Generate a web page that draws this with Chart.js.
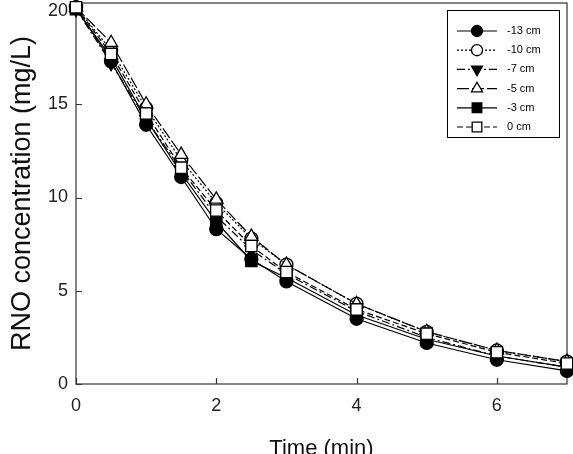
<!DOCTYPE html>
<html><head><meta charset="utf-8">
<script src="https://cdn.jsdelivr.net/npm/chart.js@4/dist/chart.umd.min.js"></script>
<style>html,body{margin:0;padding:0;background:#fff}#wrap{width:573px;height:454px}</style>
</head><body><div id="wrap"><canvas id="c" width="573" height="454"></canvas></div>
<script>
// ---- data ----
const times = [0, 0.5, 1, 1.5, 2, 2.5, 3, 4, 5, 6, 7];
const seriesLabels = ['-13 cm', '-10 cm', '-7 cm', '-5 cm', '-3 cm', '0 cm'];
const depthM13 = [20.2, 17.3, 13.9, 11.1, 8.3, 6.7, 5.5, 3.5, 2.2, 1.3, 0.7];
const depthM10 = [20.2, 17.9, 14.8, 12.0, 9.7, 7.8, 6.4, 4.3, 2.8, 1.8, 1.2];
const depthM7  = [20.1, 17.2, 14.2, 11.5, 9.0, 7.2, 5.9, 3.9, 2.5, 1.5, 0.9];
const depthM5  = [20.2, 18.3, 15.0, 12.3, 9.9, 7.9, 6.4, 4.3, 2.8, 1.8, 1.2];
const depthM3  = [20.1, 17.5, 14.2, 11.3, 8.7, 6.6, 5.7, 3.7, 2.4, 1.5, 0.9];
const depth0   = [20.2, 17.7, 14.5, 11.6, 9.3, 7.4, 6.0, 4.0, 2.7, 1.7, 1.1];
const xTickValues = [0, 2, 4, 6];
const yTickValues = [0, 5, 10, 15, 20];
const xTitle = 'Time (min)';
const yTitle = 'RNO concentration (mg/L)';

// ---- styles ----
const seriesValues = [depthM13, depthM10, depthM7, depthM5, depthM3, depth0];
const markerStyles = [
  {ps: 'circle',   rot: 0,   r: 6.5, fill: '#000', dash: []},
  {ps: 'circle',   rot: 0,   r: 6.5, fill: '#fff', dash: [2, 2]},
  {ps: 'triangle', rot: 180, r: 7.5, fill: '#000', dash: [8, 3, 2, 3]},
  {ps: 'triangle', rot: 0,   r: 7.5, fill: '#fff', dash: [12, 3]},
  {ps: 'rect',     rot: 0,   r: 8,   fill: '#000', dash: []},
  {ps: 'rect',     rot: 0,   r: 8,   fill: '#fff', dash: [6, 3]}
];
const FONT = '"Liberation Sans", Arial, sans-serif';

const datasets = seriesValues.map((vals, i) => {
  const s = markerStyles[i];
  return {
    label: seriesLabels[i],
    data: times.map((t, k) => ({x: t, y: vals[k]})),
    borderColor: '#000',
    borderWidth: 1.2,
    borderDash: s.dash,
    pointStyle: s.ps,
    pointRotation: s.rot,
    pointRadius: s.r,
    pointBackgroundColor: s.fill,
    pointBorderColor: '#000',
    pointBorderWidth: 1.3,
    fill: false,
    tension: 0,
    clip: false,
    order: seriesValues.length - i
  };
});

const framePlugin = {
  id: 'frame',
  beforeDatasetsDraw(chart) {
    const ctx = chart.ctx;
    const a = chart.chartArea;
    const xs = chart.scales.x, ys = chart.scales.y;
    ctx.save();
    ctx.strokeStyle = '#333';
    ctx.lineWidth = 1.2;
    ctx.setLineDash([]);
    ctx.strokeRect(a.left, a.top, a.right - a.left, a.bottom - a.top);
    ctx.beginPath();
    xTickValues.forEach(v => {
      const px = Math.round(xs.getPixelForValue(v)) + 0.5;
      ctx.moveTo(px, a.bottom); ctx.lineTo(px, a.bottom - 6);
    });
    yTickValues.forEach(v => {
      const py = Math.round(ys.getPixelForValue(v)) + 0.5;
      ctx.moveTo(a.left, py); ctx.lineTo(a.left + 6, py);
    });
    ctx.stroke();
    ctx.restore();
  },
  afterDraw(chart) {
    const ctx = chart.ctx;
    ctx.save();
    const bx = 447.5, by = 10.5, bw = 112, bh = 127;
    ctx.fillStyle = '#fff';
    ctx.fillRect(bx, by, bw, bh);
    ctx.strokeStyle = '#000';
    ctx.lineWidth = 1;
    ctx.strokeRect(bx, by, bw, bh);
    seriesLabels.forEach((lab, i) => {
      const s = markerStyles[i];
      const y = 31 + i * 19.2;
      ctx.save();
      ctx.strokeStyle = '#000';
      ctx.lineWidth = 1.2;
      ctx.setLineDash(s.dash);
      ctx.beginPath();
      ctx.moveTo(457, y); ctx.lineTo(497, y);
      ctx.stroke();
      ctx.setLineDash([]);
      ctx.fillStyle = s.fill;
      ctx.lineWidth = 1.3;
      Chart.helpers.drawPoint(ctx, {pointStyle: s.ps, radius: s.r * 0.85, rotation: s.rot, borderWidth: 1.3}, 477, y);
      ctx.restore();
      ctx.fillStyle = '#000';
      ctx.font = '11px ' + FONT;
      ctx.textBaseline = 'middle';
      ctx.textAlign = 'left';
      ctx.fillText(lab, 507, y);
    });
    ctx.restore();
  }
};

new Chart(document.getElementById('c'), {
  type: 'line',
  data: {datasets},
  options: {
    responsive: false,
    animation: false,
    layout: {autoPadding: false, padding: {left: 0, top: 3, right: 6, bottom: 0}},
    plugins: {legend: {display: false}, tooltip: {enabled: false}},
    scales: {
      x: {
        type: 'linear', min: 0, max: 7,
        afterBuildTicks: s => { s.ticks = xTickValues.map(v => ({value: v})); },
        afterFit: s => { s.height = 70; s.paddingLeft = 0; s.paddingRight = 0; },
        grid: {display: false, drawTicks: false},
        border: {display: false},
        ticks: {color: '#222', font: {family: FONT, size: 18}, padding: 11, maxRotation: 0},
        title: {display: true, text: xTitle, color: '#111', font: {family: FONT, size: 22}, padding: {top: 0, bottom: -8}}
      },
      y: {
        type: 'linear', min: 0, max: 20.43,
        afterBuildTicks: s => { s.ticks = yTickValues.map(v => ({value: v})); },
        afterFit: s => { s.width = 76; s.paddingTop = 0; s.paddingBottom = 0; },
        grid: {display: false, drawTicks: false},
        border: {display: false},
        ticks: {color: '#222', font: {family: FONT, size: 18}, padding: 8},
        title: {display: true, text: yTitle, color: '#111', font: {family: FONT, size: 27}, padding: {top: 6, bottom: 0}}
      }
    }
  },
  plugins: [framePlugin]
});
</script>
</body></html>
